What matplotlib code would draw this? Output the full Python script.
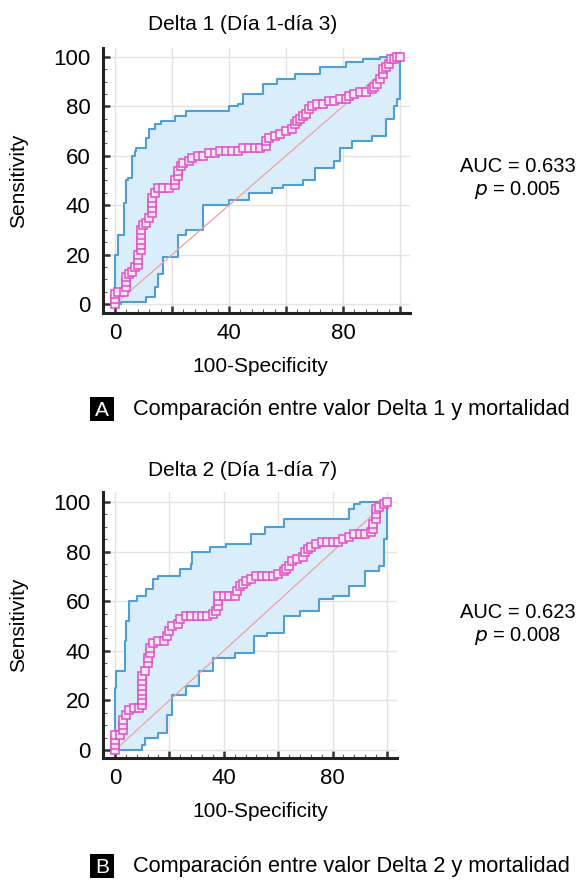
import matplotlib
matplotlib.use("Agg")
import matplotlib.pyplot as plt
from matplotlib.ticker import MultipleLocator
from matplotlib.patches import Rectangle

plt.rcParams['font.family'] = ['Liberation Sans', 'DejaVu Sans']

# ROC curve, Delta 1 (Dia 1-dia 3)
roc1_fpr = [0, 0, 0, 1, 3, 4, 4, 4, 5, 6, 7, 8, 8, 8, 9, 9, 9, 9, 9, 10, 11, 12, 13, 13, 13,
            13, 14, 15, 17, 19, 21, 21, 22, 22, 23, 24, 26, 27, 29, 31, 33, 35, 37, 39, 41, 43,
            45, 47, 49, 51, 53, 53, 54, 56, 58, 60, 62, 63, 64, 65, 66, 67, 68, 69, 71, 73, 75,
            77, 79, 81, 82, 84, 86, 88, 90, 91, 92, 93, 94, 94, 95, 96, 97, 98, 99, 100]
roc1_tpr = [0, 2, 4, 5, 5, 7, 9, 11, 12, 13, 15, 16, 18, 20, 22, 24, 26, 28, 30, 32, 33, 35, 37, 39, 41,
            43, 45, 47, 47, 47, 48, 50, 52, 54, 56, 57, 58, 59, 60, 60, 61, 61, 62, 62, 62, 62,
            63, 63, 63, 63, 64, 66, 67, 68, 69, 70, 71, 73, 74, 75, 76, 77, 79, 80, 81, 81, 82,
            82, 83, 83, 84, 85, 86, 86, 87, 88, 89, 91, 93, 95, 96, 97, 99, 99, 100, 100]
ci1_up_x = [0, 0, 1, 3, 4, 4.5, 6, 7, 7.5, 11, 12, 14, 16, 21, 25, 40, 43, 45, 52, 57, 63, 72, 81, 87, 93, 100]
ci1_up_y = [0, 13, 20, 28, 41, 50, 51, 60, 62, 63, 67, 71, 73, 74, 76, 78, 80, 81, 85, 89, 91, 93, 96, 98, 99, 100]
ci1_lo_x = [0, 2, 8, 11, 14, 15, 17, 22, 22, 25, 31, 40, 47, 55, 59, 66, 70, 77, 79, 83, 90, 95, 95, 98, 99, 100, 100]
ci1_lo_y = [0, 1, 1, 3, 7, 12, 19, 22, 28, 30, 40, 42, 45, 47, 48, 50, 55, 58, 63, 66, 68, 71, 75, 80, 83, 88, 100]

# ROC curve, Delta 2 (Dia 1-dia 7)
roc2_fpr = [0, 0, 0, 0, 2, 3, 3, 3, 4, 5, 7, 9, 10, 10, 10, 10, 10, 10, 10, 11, 12, 12, 13, 13, 14,
            16, 18, 19, 20, 21, 23, 24, 26, 28, 30, 32, 34, 36, 37, 38, 38, 38, 40, 42, 44, 45,
            46, 47, 48, 50, 52, 54, 56, 58, 60, 62, 63, 64, 65, 67, 69, 70, 71, 72, 74, 76, 78,
            80, 82, 84, 86, 88, 90, 92, 94, 95, 95, 96, 96, 96, 97, 99, 100]
roc2_tpr = [0, 2, 4, 6, 6, 8, 10, 12, 14, 16, 17, 17, 18, 20, 22, 24, 26, 28, 30, 32, 35, 37, 39, 41, 43,
            44, 44, 46, 48, 50, 51, 53, 54, 54, 54, 54, 54, 55, 56, 58, 60, 62, 62, 62, 62, 64,
            66, 67, 68, 69, 70, 70, 70, 70, 71, 72, 73, 74, 76, 77, 78, 80, 81, 82, 83, 84, 84,
            84, 84, 85, 86, 87, 87, 87, 88, 89, 91, 93, 95, 97, 98, 99, 100]
ci2_up_x = [0, 0, 0.5, 1.8, 3.6, 4, 5, 8, 11.5, 14, 16, 19, 24, 28, 28.5, 35, 41, 50, 55, 62, 70, 86, 88, 90, 98, 100]
ci2_up_y = [0, 13, 25, 32, 32, 44, 52, 60, 62, 65, 69, 70, 70, 73, 75, 80, 82, 83, 87, 90, 93, 93, 97, 99, 100, 100]
ci2_lo_x = [0, 3, 10, 11, 16, 19, 21, 26, 31, 36, 44, 51, 56, 62, 68, 75, 80, 86, 92, 97, 99, 100]
ci2_lo_y = [0, 0, 2, 5, 7, 14, 22, 26, 32, 37, 39, 46, 47, 54, 56, 61, 62, 66, 72, 74, 85, 100]

titles = ["Delta 1 (Día 1-día 3)", "Delta 2 (Día 1-día 7)"]
auc_text = ["AUC = 0.633", "AUC = 0.623"]
p_text = ["0.005", "0.008"]
captions = ["Comparación entre valor Delta 1 y mortalidad", "Comparación entre valor Delta 2 y mortalidad"]
letters = ["A", "B"]

W, H = 584, 880


def stairs(xs, ys):
    # turn vertices into a staircase path (up first, then right)
    sx, sy = [xs[0]], [ys[0]]
    for i in range(1, len(xs)):
        sx += [xs[i - 1], xs[i]]
        sy += [ys[i], ys[i]]
    return sx, sy


fig = plt.figure(figsize=(W / 100, H / 100), dpi=100)

# pixel boxes: left, top, right, bottom
boxes = [(103, 48, 410, 313), (103, 492, 397, 758)]
lims = [((-4.2, 103.5), (-3.6, 103.6)), ((-4.4, 103.7), (-3.2, 104.0))]
panels = [
    (roc1_fpr, roc1_tpr, ci1_up_x, ci1_up_y, ci1_lo_x, ci1_lo_y),
    (roc2_fpr, roc2_tpr, ci2_up_x, ci2_up_y, ci2_lo_x, ci2_lo_y),
]
# text anchor positions in pixels
title_y = [25, 470]
auc_y = [166, 612]
xlabel_y = [366, 811]
cap_y = [409, 866]

for k in range(2):
    l, t, r, b = boxes[k]
    ax = fig.add_axes([l / W, 1 - b / H, (r - l) / W, (b - t) / H])
    fx, fy, ux, uy, lx, ly = panels[k]

    usx, usy = stairs(ux, uy)
    # lower bound goes right first, then up
    lsx, lsy = [lx[0]], [ly[0]]
    for i in range(1, len(lx)):
        lsx += [lx[i], lx[i]]
        lsy += [ly[i - 1], ly[i]]

    ax.fill(usx + lsx[::-1], usy + lsy[::-1], color='#d9eefa', zorder=1, lw=0)
    ax.plot(usx, usy, color='#4f9fd6', lw=1.5, zorder=2)
    ax.plot(lsx, lsy, color='#4f9fd6', lw=1.5, zorder=2)
    ax.plot([0, 100], [0, 100], color='#f0a0a0', lw=0.9, zorder=2)

    rsx, rsy = stairs(fx, fy)
    ax.plot(rsx, rsy, color='#e050c8', lw=1.2, zorder=3)
    ax.plot(fx, fy, ls='none', marker='s', ms=6.2, mfc='#fbe6f6', mec='#e050c8', mew=1.1, zorder=4)

    ax.set_xlim(*lims[k][0])
    ax.set_ylim(*lims[k][1])
    ax.set_xticks([0, 20, 40, 60, 80, 100])
    ax.set_xticklabels(["0", "", "40", "", "80", ""])
    ax.set_yticks([0, 20, 40, 60, 80, 100])
    ax.xaxis.set_minor_locator(MultipleLocator(4))
    ax.yaxis.set_minor_locator(MultipleLocator(5))
    ax.tick_params(which='major', direction='in', length=5, width=1.8, color='#333333',
                   labelsize=16, pad=7)
    ax.tick_params(axis='y', which='major', pad=9)
    ax.tick_params(which='minor', direction='in', length=3, width=0.8, color='#666666')
    ax.grid(True, which='major', color='#e3e3e3', lw=1.0)
    ax.set_axisbelow(True)
    for s in ['top', 'right']:
        ax.spines[s].set_visible(False)
    for s in ['left', 'bottom']:
        ax.spines[s].set_linewidth(2.2)
        ax.spines[s].set_color('#222222')

    yc = (t + b) / 2
    fig.text(19 / W, 1 - yc / H, "Sensitivity", rotation=90, ha='center', va='center', fontsize=15)
    fig.text(243 / W, 1 - title_y[k] / H, titles[k], ha='center', va='center', fontsize=15)
    fig.text(260 / W, 1 - xlabel_y[k] / H, "100-Specificity", ha='center', va='center', fontsize=15)
    fig.text(518 / W, 1 - auc_y[k] / H, auc_text[k], ha='center', va='center', fontsize=14.5)
    fig.text(518 / W, 1 - (auc_y[k] + 24) / H, "$p$ = " + p_text[k], ha='center', va='center',
             fontsize=14.5, math_fontfamily='dejavusans')

    fig.patches.append(Rectangle((90 / W, 1 - (cap_y[k] + 12) / H), 24 / W, 24 / H,
                                 transform=fig.transFigure, facecolor='black', edgecolor='none'))
    fig.text(102 / W, 1 - (cap_y[k] + 1) / H, letters[k], ha='center', va='center',
             fontsize=15, color='white')
    fig.text(133 / W, 1 - cap_y[k] / H, captions[k], ha='left', va='center', fontsize=15.7)

fig.savefig("out.png", dpi=100, facecolor='white')
